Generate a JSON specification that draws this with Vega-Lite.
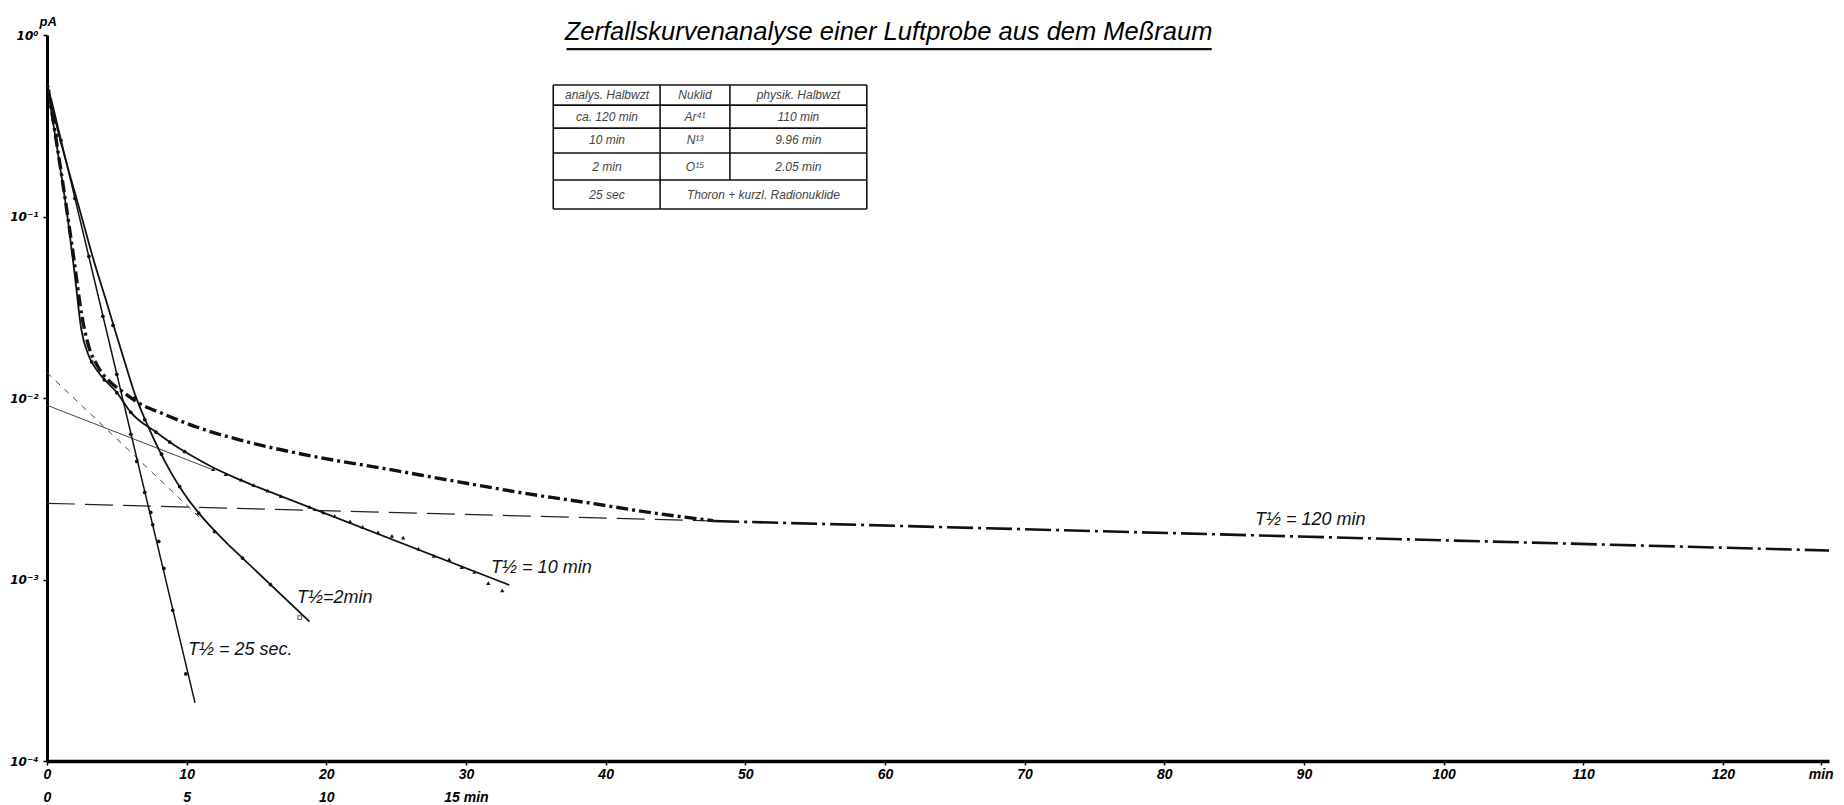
{
  "$schema": "https://vega.github.io/schema/vega-lite/v6.json",
  "width": 1782,
  "height": 726,
  "autosize": {"type": "none"},
  "padding": {"left": 47, "top": 35, "right": 15, "bottom": 44},
  "background": "white",
  "title": {
    "text": "Zerfallskurvenanalyse einer Luftprobe aus dem Meßraum",
    "anchor": "start",
    "dx": 555,
    "dy": 50,
    "offset": 0,
    "baseline": "alphabetic",
    "font": "Liberation Sans",
    "fontStyle": "italic",
    "fontWeight": "normal",
    "fontSize": 25.5,
    "color": "black"
  },
  "config": {
    "view": {"stroke": null},
    "axis": {"grid": false, "domainColor": "black", "tickColor": "black", "labelColor": "black", "titleColor": "black"}
  },
  "datasets": {
    "total": [
      {"x": 0.1, "y": 0.501}, {"x": 0.6, "y": 0.282}, {"x": 1.2, "y": 0.141}, {"x": 1.9, "y": 0.0603},
      {"x": 2.5, "y": 0.0282}, {"x": 3.0, "y": 0.0191}, {"x": 3.6, "y": 0.0151}, {"x": 4.5, "y": 0.0123},
      {"x": 5.3, "y": 0.011}, {"x": 6.4, "y": 0.00955}, {"x": 8.4, "y": 0.00813}, {"x": 10.7, "y": 0.00692},
      {"x": 13.9, "y": 0.00585}, {"x": 19.0, "y": 0.00478}, {"x": 24.2, "y": 0.00408}, {"x": 29.3, "y": 0.00347},
      {"x": 35.0, "y": 0.00292}, {"x": 38.7, "y": 0.00265}, {"x": 43.0, "y": 0.00235}, {"x": 47.7, "y": 0.00211}
    ],
    "a120dash": [{"x": 0, "y": 0.00263}, {"x": 47.7, "y": 0.0021}],
    "a120": [{"x": 47.7, "y": 0.0021}, {"x": 127.6, "y": 0.001445}],
    "b10ext": [{"x": 0, "y": 0.00912}, {"x": 12.0, "y": 0.00399}],
    "b10": [{"x": 15.0, "y": 0.003246}, {"x": 33.1, "y": 0.000933}],
    "diffA": [
      {"x": 0.1, "y": 0.479}, {"x": 0.8, "y": 0.219}, {"x": 1.5, "y": 0.0955}, {"x": 2.0, "y": 0.0468},
      {"x": 2.45, "y": 0.024}, {"x": 3.0, "y": 0.017}, {"x": 3.7, "y": 0.0138}, {"x": 5.0, "y": 0.01072},
      {"x": 6.0, "y": 0.00834}, {"x": 7.8, "y": 0.00649}, {"x": 8.8, "y": 0.00571}, {"x": 9.85, "y": 0.00507},
      {"x": 10.9, "y": 0.00455}, {"x": 12.0, "y": 0.0041}, {"x": 13.5, "y": 0.00363}, {"x": 15.0, "y": 0.003246}
    ],
    "c2ext": [{"x": 0, "y": 0.0138}, {"x": 10.87, "y": 0.00222}],
    "c2": [{"x": 13.0, "y": 0.001552}, {"x": 18.8, "y": 0.000586}],
    "diffAB": [
      {"x": 0.2, "y": 0.447}, {"x": 1.2, "y": 0.224}, {"x": 2.4, "y": 0.105}, {"x": 3.3, "y": 0.0589},
      {"x": 4.3, "y": 0.0331}, {"x": 5.0, "y": 0.0219}, {"x": 5.6, "y": 0.0155}, {"x": 6.3, "y": 0.01047},
      {"x": 7.2, "y": 0.00708}, {"x": 8.8, "y": 0.00398}, {"x": 9.8, "y": 0.00299}, {"x": 10.87, "y": 0.002323},
      {"x": 12.0, "y": 0.001858}, {"x": 13.0, "y": 0.001552}
    ],
    "d25": [{"x": 0.3, "y": 0.447}, {"x": 10.6, "y": 0.000209}],
    "circles": [
      {"x": 0.05, "y": 0.52}, {"x": 0.15, "y": 0.46}, {"x": 0.3, "y": 0.4}, {"x": 0.45, "y": 0.34}, {"x": 0.7, "y": 0.28},
      {"x": 1.0, "y": 0.263}, {"x": 2.0, "y": 0.126}, {"x": 3.0, "y": 0.0603}, {"x": 4.0, "y": 0.0282}, {"x": 5.0, "y": 0.0135},
      {"x": 6.0, "y": 0.00631}, {"x": 6.43, "y": 0.00447}, {"x": 7.0, "y": 0.00302}, {"x": 7.43, "y": 0.00234},
      {"x": 7.57, "y": 0.002}, {"x": 8.0, "y": 0.00162}, {"x": 8.37, "y": 0.00115}, {"x": 9.0, "y": 0.000676}, {"x": 9.94, "y": 0.000302},
      {"x": 4.73, "y": 0.0251}, {"x": 6.27, "y": 0.01}, {"x": 7.0, "y": 0.00759}, {"x": 8.2, "y": 0.0049}, {"x": 9.5, "y": 0.00325},
      {"x": 10.86, "y": 0.00232}, {"x": 12.0, "y": 0.001837}, {"x": 14.0, "y": 0.001312}, {"x": 16.0, "y": 0.000938},
      {"x": 3.2, "y": 0.0158}, {"x": 4.1, "y": 0.0126}, {"x": 5.0, "y": 0.0107}, {"x": 6.0, "y": 0.00834},
      {"x": 7.8, "y": 0.00649}, {"x": 8.8, "y": 0.00571}, {"x": 9.85, "y": 0.00507}
    ],
    "triangles": [
      {"x": 11.9, "y": 0.00405}, {"x": 12.8, "y": 0.0038}, {"x": 13.9, "y": 0.00355}, {"x": 14.8, "y": 0.00331},
      {"x": 15.8, "y": 0.00309}, {"x": 16.75, "y": 0.00288}, {"x": 18.8, "y": 0.00251}, {"x": 19.8, "y": 0.00234},
      {"x": 20.6, "y": 0.00224}, {"x": 21.7, "y": 0.00209}, {"x": 22.6, "y": 0.00195}, {"x": 23.7, "y": 0.00182},
      {"x": 24.7, "y": 0.00174}, {"x": 25.5, "y": 0.0017}, {"x": 26.6, "y": 0.00148}, {"x": 27.7, "y": 0.00135},
      {"x": 28.8, "y": 0.00129}, {"x": 29.7, "y": 0.00117}, {"x": 30.6, "y": 0.0011}, {"x": 31.6, "y": 0.000955},
      {"x": 32.6, "y": 0.000871}
    ],
    "squares": [{"x": 18.1, "y": 0.000617}],
    "tableRules": [
      {"x": 36.25, "x2": 58.7, "y": 0.53, "y2": 0.53},
      {"x": 36.25, "x2": 58.7, "y": 0.411, "y2": 0.411},
      {"x": 36.25, "x2": 58.7, "y": 0.307, "y2": 0.307},
      {"x": 36.25, "x2": 58.7, "y": 0.224, "y2": 0.224},
      {"x": 36.25, "x2": 58.7, "y": 0.159, "y2": 0.159},
      {"x": 36.25, "x2": 58.7, "y": 0.11, "y2": 0.11},
      {"x": 36.25, "x2": 36.25, "y": 0.53, "y2": 0.11},
      {"x": 43.9, "x2": 43.9, "y": 0.53, "y2": 0.11},
      {"x": 48.9, "x2": 48.9, "y": 0.53, "y2": 0.159},
      {"x": 58.7, "x2": 58.7, "y": 0.53, "y2": 0.11}
    ],
    "underline": [{"x": 37.2, "x2": 83.4, "y": 0.837, "y2": 0.837}],
    "tableText": [
      {"x": 40.1, "y": 0.467, "text": "analys. Halbwzt"},
      {"x": 46.4, "y": 0.467, "text": "Nuklid"},
      {"x": 53.8, "y": 0.467, "text": "physik. Halbwzt"},
      {"x": 40.1, "y": 0.355, "text": "ca. 120 min"},
      {"x": 46.4, "y": 0.355, "text": "Ar⁴¹"},
      {"x": 53.8, "y": 0.355, "text": "110 min"},
      {"x": 40.1, "y": 0.263, "text": "10 min"},
      {"x": 46.4, "y": 0.263, "text": "N¹³"},
      {"x": 53.8, "y": 0.263, "text": "9.96 min"},
      {"x": 40.1, "y": 0.188, "text": "2 min"},
      {"x": 46.4, "y": 0.188, "text": "O¹⁵"},
      {"x": 53.8, "y": 0.188, "text": "2.05 min"},
      {"x": 40.1, "y": 0.132, "text": "25 sec"},
      {"x": 51.3, "y": 0.132, "text": "Thoron + kurzl. Radionuklide"}
    ],
    "labels": [
      {"x": 10.1, "y": 0.000407, "text": "T½ = 25 sec."},
      {"x": 17.9, "y": 0.000794, "text": "T½=2min"},
      {"x": 31.8, "y": 0.00115, "text": "T½ = 10 min"},
      {"x": 86.5, "y": 0.00214, "text": "T½ = 120 min"}
    ]
  },
  "encoding": {
    "x": {
      "field": "x", "type": "quantitative",
      "scale": {"domain": [0, 127.6], "nice": false, "zero": false},
      "axis": {
        "title": null,
        "values": [0, 10, 20, 30, 40, 50, 60, 70, 80, 90, 100, 110, 120, 127],
        "labelExpr": "datum.value == 127 ? 'min' : datum.value == 0 ? ['0', '0'] : datum.value == 10 ? ['10', '5'] : datum.value == 20 ? ['20', '10'] : datum.value == 30 ? ['30', '\u00a0\u00a0\u00a0\u00a0\u00a015 min'] : datum.label",
        "domainWidth": 3.5,
        "tickSize": 4,
        "tickWidth": 1.5,
        "labelPadding": 2,
        "labelBaseline": "top",
        "labelLineHeight": 23,
        "labelFont": "Liberation Sans",
        "labelFontStyle": "italic",
        "labelFontWeight": "bold",
        "labelFontSize": 14,
        "labelOverlap": false,
        "labelFlush": false
      }
    },
    "y": {
      "field": "y", "type": "quantitative",
      "scale": {"type": "log", "domain": [0.0001, 1], "nice": false},
      "axis": {
        "title": "pA",
        "titleAngle": 0,
        "titleX": -8,
        "titleY": -14,
        "titleAlign": "left",
        "titleBaseline": "middle",
        "titleFont": "Liberation Sans",
        "titleFontStyle": "italic",
        "titleFontWeight": "bold",
        "titleFontSize": 13,
        "values": [1, 0.1, 0.01, 0.001, 0.0001],
        "labelExpr": "'10' + (datum.value == 1 ? '⁰' : datum.value == 0.1 ? '⁻¹' : datum.value == 0.01 ? '⁻²' : datum.value == 0.001 ? '⁻³' : '⁻⁴')",
        "domainWidth": 3,
        "tickSize": 4,
        "tickWidth": 1.5,
        "labelPadding": 5,
        "labelFont": "DejaVu Sans",
        "labelFontStyle": "italic",
        "labelFontWeight": "bold",
        "labelFontSize": 12
      }
    }
  },
  "layer": [
    {"data": {"name": "a120dash"}, "mark": {"type": "line", "color": "#222", "strokeWidth": 1.2, "strokeDash": [28, 10]}},
    {"data": {"name": "a120"}, "mark": {"type": "line", "color": "#111", "strokeWidth": 2.6, "strokeDash": [26, 5, 3, 5]}},
    {"data": {"name": "total"}, "mark": {"type": "line", "color": "#111", "strokeWidth": 3.4, "strokeDash": [12, 4, 3, 4], "interpolate": "monotone"}},
    {"data": {"name": "b10ext"}, "mark": {"type": "line", "color": "#444", "strokeWidth": 1}},
    {"data": {"name": "b10"}, "mark": {"type": "line", "color": "#111", "strokeWidth": 1.8}},
    {"data": {"name": "diffA"}, "mark": {"type": "line", "color": "#111", "strokeWidth": 1.8, "interpolate": "monotone"}},
    {"data": {"name": "c2ext"}, "mark": {"type": "line", "color": "#444", "strokeWidth": 1, "strokeDash": [6, 6]}},
    {"data": {"name": "c2"}, "mark": {"type": "line", "color": "#111", "strokeWidth": 1.8}},
    {"data": {"name": "diffAB"}, "mark": {"type": "line", "color": "#111", "strokeWidth": 1.8, "interpolate": "monotone"}},
    {"data": {"name": "d25"}, "mark": {"type": "line", "color": "#111", "strokeWidth": 1.5}},
    {"data": {"name": "circles"}, "mark": {"type": "point", "shape": "circle", "filled": true, "color": "#111", "size": 14, "opacity": 1}},
    {"data": {"name": "triangles"}, "mark": {"type": "point", "shape": "triangle-up", "filled": true, "color": "#111", "size": 18, "opacity": 1}},
    {"data": {"name": "squares"}, "mark": {"type": "point", "shape": "square", "filled": false, "color": "#111", "size": 14, "strokeWidth": 1}},
    {
      "data": {"name": "tableRules"},
      "mark": {"type": "rule", "color": "#111", "strokeWidth": 1.6},
      "encoding": {
        "x": {"field": "x", "type": "quantitative"},
        "x2": {"field": "x2"},
        "y": {"field": "y", "type": "quantitative"},
        "y2": {"field": "y2"}
      }
    },
    {
      "data": {"name": "underline"},
      "mark": {"type": "rule", "color": "#111", "strokeWidth": 2.2},
      "encoding": {
        "x": {"field": "x", "type": "quantitative"},
        "x2": {"field": "x2"},
        "y": {"field": "y", "type": "quantitative"},
        "y2": {"field": "y2"}
      }
    },
    {
      "data": {"name": "tableText"},
      "mark": {"type": "text", "font": "Liberation Sans", "fontStyle": "italic", "fontSize": 12, "color": "#444", "align": "center", "baseline": "middle"},
      "encoding": {"text": {"field": "text"}}
    },
    {
      "data": {"name": "labels"},
      "mark": {"type": "text", "font": "Liberation Sans", "fontStyle": "italic", "fontSize": 18, "color": "#111", "align": "left", "baseline": "middle"},
      "encoding": {"text": {"field": "text"}}
    }
  ]
}
